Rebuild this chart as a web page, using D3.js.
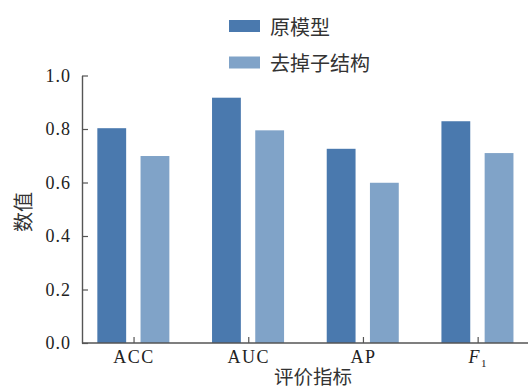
<!DOCTYPE html>
<html>
<head>
<meta charset="utf-8">
<script src="https://cdn.jsdelivr.net/npm/d3@7"></script>
<style>
  html, body { margin: 0; padding: 0; background: #fff; }
  svg { display: block; }
  .serif-label { font-family: "Liberation Serif", "Times New Roman", serif; }
</style>
</head>
<body>
<svg id="chart" width="528" height="387"></svg>
<script>
// Evaluation metrics and the two model variants
const categories = ["ACC", "AUC", "AP", "F1"];
const seriesNames = ["原模型", "去掉子结构"];
const originalModel = [0.803, 0.917, 0.726, 0.829];
const withoutSubstructure = [0.699, 0.795, 0.599, 0.710];
const yTicks = [0.0, 0.2, 0.4, 0.6, 0.8, 1.0];
const seriesColors = ["#4a79ae", "#80a3c8"];

const svg = d3.select("#chart");
const serif = "Liberation Serif";
const cjk = "'Noto Sans CJK SC', sans-serif";
const axisColor = "#555";

const axisX = 82;
const baseY = 343;

const y = d3.scaleLinear().domain([0, 1]).range([baseY, 75.5]);
const x = d3.scaleBand().domain(categories)
  .range([76, 534.8]).paddingInner(0.372).paddingOuter(0.186);
const xSub = d3.scaleBand().domain(seriesNames)
  .range([0, x.bandwidth()]).paddingInner(0.333);

const rows = categories.map((c, i) => ({
  cat: c,
  values: [
    { name: seriesNames[0], v: originalModel[i] },
    { name: seriesNames[1], v: withoutSubstructure[i] }
  ]
}));

// Bars
const groups = svg.append("g").selectAll("g").data(rows).join("g")
  .attr("transform", d => `translate(${x(d.cat)},0)`);
groups.selectAll("rect").data(d => d.values).join("rect")
  .attr("x", d => xSub(d.name))
  .attr("y", d => y(d.v))
  .attr("width", xSub.bandwidth())
  .attr("height", d => baseY - y(d.v))
  .attr("fill", (d, i) => seriesColors[i]);

// Y axis (ticks pointing inward)
const yAxis = svg.append("g")
  .attr("transform", `translate(${axisX},0)`)
  .call(d3.axisLeft(y).tickValues(yTicks).tickFormat(d3.format(".1f"))
    .tickSizeInner(-6).tickSizeOuter(0).tickPadding(11));
yAxis.attr("font-family", serif).attr("font-size", 18);
yAxis.select(".domain").attr("stroke", axisColor).attr("stroke-width", 1.4);
yAxis.selectAll(".tick line").attr("stroke", axisColor).attr("stroke-width", 1.2);
yAxis.selectAll(".tick text")
  .attr("class", "serif-label")
  .attr("font-family", serif).attr("font-size", 18)
  .attr("letter-spacing", 1).attr("fill", "#222");

// X axis line spanning to the right edge
svg.append("line")
  .attr("x1", axisX).attr("x2", 528)
  .attr("y1", baseY).attr("y2", baseY)
  .attr("stroke", axisColor).attr("stroke-width", 1.6);

// X ticks pointing upward, labels below
const xt = svg.append("g").selectAll("g").data(categories).join("g")
  .attr("transform", d => `translate(${x(d) + x.bandwidth() / 2 + 0.7},0)`);
xt.append("line")
  .attr("y1", baseY).attr("y2", baseY - 6)
  .attr("stroke", axisColor).attr("stroke-width", 1.2);
xt.append("text")
  .attr("class", "serif-label")
  .attr("y", 363)
  .attr("text-anchor", "middle")
  .attr("font-size", 18)
  .attr("letter-spacing", 1.5).attr("fill", "#222")
  .each(function (d) {
    const t = d3.select(this);
    if (d === "F1") {
      t.append("tspan").attr("font-style", "italic").text("F");
      t.append("tspan").attr("font-size", 11).attr("dy", 4).text("1");
    } else {
      t.text(d);
    }
  });

// Axis titles
svg.append("text")
  .attr("x", 313).attr("y", 375)
  .attr("text-anchor", "middle").attr("dominant-baseline", "central")
  .attr("font-family", cjk).attr("font-size", 19.5).attr("fill", "#333")
  .text("评价指标");
svg.append("text")
  .attr("transform", "translate(22,212) rotate(-90)")
  .attr("text-anchor", "middle").attr("dominant-baseline", "central")
  .attr("font-family", cjk).attr("font-size", 20).attr("fill", "#333")
  .text("数值");

// Legend
const legend = svg.append("g").selectAll("g").data(seriesNames).join("g")
  .attr("transform", (d, i) => `translate(229,${20 + i * 36.5})`);
legend.append("rect")
  .attr("width", 31).attr("height", 12)
  .attr("fill", (d, i) => seriesColors[i]);
legend.append("text")
  .attr("x", 41).attr("y", 6)
  .attr("dominant-baseline", "central")
  .attr("font-family", cjk).attr("font-size", 20).attr("fill", "#333")
  .text(d => d);
</script>
</body>
</html>
